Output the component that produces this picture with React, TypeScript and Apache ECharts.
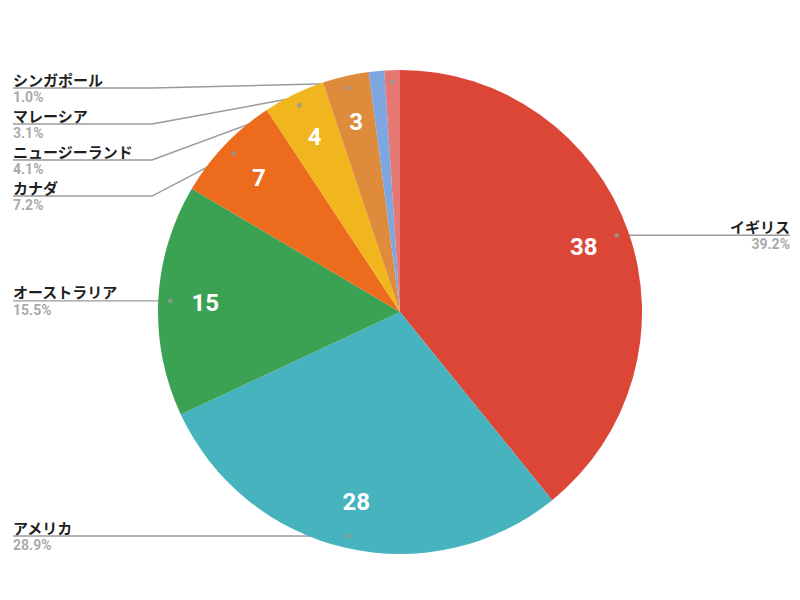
import React, { useEffect, useRef } from "react";
import * as echarts from "echarts";

const names = ["イギリス", "アメリカ", "オーストラリア", "カナダ", "ニュージーランド", "マレーシア", "その他", "シンガポール"];
const values = [38, 28, 15, 7, 4, 3, 1, 1];
const colors = ["#DC4637", "#46B3BF", "#3BA153", "#EC6B1D", "#F1B51E", "#DE8B3C", "#7EA6E0", "#E57873"];
const labelled = [true, true, true, true, true, true, false, true];

const CX = 400;
const CY = 312;
const R = 242;
const DOT_R = 0.95;
const TEXT_LEFT = 13;
const TEXT_RIGHT = 790;
const ELBOW_LEFT = 152;
const ELBOW_RIGHT = 651;
const MIN_Y = 88;
const GAP = 36;

export default function App() {
  const ref = useRef<HTMLDivElement>(null);
  useEffect(() => {
    if (!ref.current) return;
    const chart = echarts.init(ref.current, undefined, { renderer: "svg" });
    const total = values.reduce((a, b) => a + b, 0);

    const info: any[] = [];
    let cum = 0;
    values.forEach((v, i) => {
      const mid = cum + v / 2;
      const a = (mid / total) * Math.PI * 2;
      info.push({
        i,
        mid,
        left: Math.sin(a) < 0,
        dx: CX + DOT_R * R * Math.sin(a),
        dy: CY - DOT_R * R * Math.cos(a),
        y: 0,
      });
      cum += v;
    });
    const place = (arr: any[]) => {
      arr.sort((p, q) => p.dy - q.dy);
      let prev = -Infinity;
      arr.forEach((p) => {
        p.y = Math.max(p.dy, MIN_Y, prev + GAP);
        prev = p.y;
      });
    };
    const lab = info.filter((p) => labelled[p.i]);
    place(lab.filter((p) => p.left));
    place(lab.filter((p) => !p.left));
    const layout: Record<number, any> = {};
    lab.forEach((p) => (layout[p.i] = p));

    const pieData = names.map((n, i) => ({
      name: n,
      value: values[i],
      itemStyle: { color: colors[i] },
      label: { show: labelled[i] },
      labelLine: { show: labelled[i] },
    }));

    chart.setOption({
      animation: false,
      backgroundColor: "#ffffff",
      polar: { center: [CX, CY], radius: R },
      angleAxis: { type: "value", min: 0, max: total, startAngle: 90, clockwise: true, show: false },
      radiusAxis: { type: "value", min: 0, max: 1, show: false },
      series: [
        {
          type: "pie",
          center: [CX, CY],
          radius: R,
          startAngle: 90,
          clockwise: true,
          avoidLabelOverlap: false,
          silent: true,
          data: pieData,
          label: {
            position: "outside",
            formatter: (p: any) =>
              `{n|${p.name}}\n{p|${((p.value / total) * 100).toFixed(1)}%}`,
            rich: {
              n: {
                fontSize: 15,
                fontWeight: "bold",
                color: "#1f1f1f",
                lineHeight: 19,
                fontFamily: "Noto Sans CJK JP",
              },
              p: {
                fontSize: 14,
                fontWeight: "bold",
                color: "#aaaaaa",
                lineHeight: 17,
                fontFamily: "Roboto",
              },
            },
          },
          labelLine: { show: true, lineStyle: { color: "#9a9a9a", width: 1.4 } },
          labelLayout: (params: any) => {
            const L = layout[params.dataIndex];
            if (!L) return {};
            return {
              x: L.left ? TEXT_LEFT : TEXT_RIGHT,
              y: L.y,
              dy: -0.5,
              align: L.left ? "left" : "right",
              verticalAlign: "middle",
              labelLinePoints: [
                [L.dx, L.dy],
                [L.left ? ELBOW_LEFT : ELBOW_RIGHT, L.y],
                [L.left ? TEXT_LEFT : TEXT_RIGHT, L.y],
              ],
            };
          },
        },
        {
          type: "pie",
          center: [CX, CY],
          radius: [142, R],
          startAngle: 90,
          clockwise: true,
          silent: true,
          z: 3,
          itemStyle: { color: "rgba(0,0,0,0)", borderWidth: 0 },
          labelLine: { show: false },
          label: {
            position: "inside",
            color: "#ffffff",
            fontSize: 24,
            fontWeight: "bold",
            fontFamily: "Roboto",
            formatter: (p: any) => (p.value > 1 ? String(p.value) : ""),
          },
          data: names.map((n, i) => ({ name: n, value: values[i] })),
        },
        {
          type: "scatter",
          coordinateSystem: "polar",
          silent: true,
          z: 5,
          symbolSize: 5,
          itemStyle: { color: "#999999" },
          data: lab.map((p) => [DOT_R, p.mid]),
        },
      ],
    });
    return () => chart.dispose();
  }, []);
  return (
    <div
      ref={ref}
      style={{ position: "fixed", left: 0, top: 0, width: 800, height: 600 }}
    />
  );
}
